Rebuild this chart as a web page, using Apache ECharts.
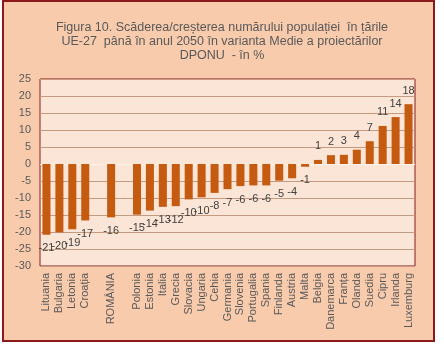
<!DOCTYPE html>
<html><head><meta charset="utf-8">
<script src="https://cdn.jsdelivr.net/npm/echarts@6/dist/echarts.min.js"></script>
<style>html,body{margin:0;padding:0;background:#fff}#c{width:444px;height:348px}</style>
</head><body><div id="c"></div>
<script>
var categories = ['Lituania','Bulgaria','Letonia','Croația','','ROMÂNIA','','Polonia','Estonia','Italia','Grecia','Slovacia','Ungaria','Cehia','Germania','Slovenia','Portugalia','Spania','Finlanda','Austria','Malta','Belgia','Danemarca','Franța','Olanda','Suedia','Cipru','Irlanda','Luxemburg'];
var values = [-20.8,-20.1,-19.2,-16.6,null,-15.7,null,-14.9,-13.7,-12.6,-12.4,-10.4,-9.8,-8.5,-7.4,-6.5,-6.3,-6.3,-4.9,-4.2,-0.8,1.2,2.6,2.7,4.2,6.7,11.2,13.8,17.6];
var labels = ['-21','-20','-19','-17','','-16','','-15','-14','-13','-12','-10','-10','-8','-7','-6','-6','-6','-5','-4','-1','1','2','3','4','7','11','14','18'];
var yTicks = [-30,-25,-20,-15,-10,-5,0,5,10,15,20,25];

var chart = echarts.init(document.getElementById('c'));
var data = values.map(function(v,i){
  return {value: v, label: {position: (v !== null && v < 0) ? 'bottom' : 'top', formatter: labels[i]}};
});
var gridColors = yTicks.map(function(t){ return t === 0 ? '#FDF3EC' : '#C49A80'; });
chart.setOption({
  backgroundColor: '#ffffff',
  animation: false,
  graphic: [{
    type: 'rect', z: -10,
    shape: {x: 3, y: 1, width: 431, height: 340},
    style: {fill: '#F8CBAD', stroke: '#8B1A1A', lineWidth: 2}
  }],
  title: {
    text: 'Figura 10. Scăderea/creșterea numărului populației  în țările\nUE-27  până în anul 2050 în varianta Medie a proiectărilor\nDPONU  - în %',
    left: 'center', top: 16,
    textStyle: {fontFamily: 'Liberation Sans', fontSize: 12.5, fontWeight: 'normal', color: '#595959', lineHeight: 14}
  },
  grid: {left: 40, right: 29, top: 79, bottom: 82, show: true, backgroundColor: '#FBE5D6', borderColor: '#8B1A1A', borderWidth: 1},
  xAxis: {
    type: 'category', data: categories,
    axisLine: {show: false}, axisTick: {show: false},
    axisLabel: {rotate: 90, interval: 0, margin: 7, fontSize: 11, color: '#595959', fontFamily: 'Liberation Sans'}
  },
  yAxis: {
    type: 'value', min: -30, max: 25, interval: 5,
    axisLine: {show: false}, axisTick: {show: false},
    axisLabel: {margin: 9, fontSize: 11, color: '#595959', fontFamily: 'Liberation Sans'},
    splitLine: {lineStyle: {color: gridColors, width: 1}}
  },
  series: [{
    type: 'bar', data: data, barCategoryGap: '38%',
    itemStyle: {color: '#C55A11'},
    label: {show: true, distance: 8, fontSize: 11, color: '#404040', fontFamily: 'Liberation Sans'}
  }]
});
</script></body></html>
